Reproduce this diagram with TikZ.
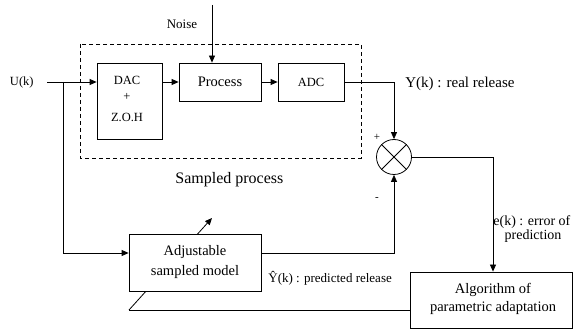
\documentclass[tikz,border=0pt]{standalone}
\usepackage{fontspec}
\setmainfont{Liberation Serif}
\usetikzlibrary{arrows.meta}
\newcommand{\fs}[1]{\fontsize{#1}{#1}\selectfont}
\begin{document}
\begin{tikzpicture}[x=1pt,y=-1pt,
  line width=0.8pt,
  blk/.style={draw,rectangle,fill=white,inner sep=0pt,align=center},
  lbl/.style={inner sep=0pt,align=center},
  arr/.style={-{Triangle[length=7pt,width=6pt]}}]
\useasboundingbox (0,0) rectangle (574,331);
% dashed sampled-process frame
\draw[line width=0.7pt,dash pattern=on 4pt off 3pt] (80,44) rectangle (361,158);
% blocks
\node[blk,minimum width=65pt,minimum height=76pt] (dac) at (129.5,101) {};
\node[lbl,font=\fs{12.5}] (dact) at (127,80) {DAC};
\node[lbl,font=\fs{12.5}] (dacp) at (127,97) {+};
\node[lbl,font=\fs{12.5}] (dacz) at (127,117) {Z.O.H};
\node[blk,minimum width=82pt,minimum height=38pt,font=\fs{14.5}] (proc) at (220,82) {Process};
\node[blk,minimum width=66pt,minimum height=38pt,font=\fs{12.5}] (adc) at (311,82) {ADC};
\node[blk,minimum width=162pt,minimum height=56pt] (algo) at (491,300) {};
\node[lbl,font=\fs{14.5}] (algt1) at (493,290) {Algorithm of};
\node[lbl,font=\fs{14.5}] (algt2) at (493,308) {parametric adaptation};
\node[draw,circle,inner sep=0pt,minimum size=35pt] (sum) at (394,157) {};
\draw (sum.north east) -- (sum.south west);
\draw (sum.north west) -- (sum.south east);
% feedback (passes behind the model block)
\coordinate (fbl) at (129,310);
\coordinate (fbtip) at (212,218);
\draw (algo.west |- fbl) -- (fbl);
\draw[arr] (fbl) -- (fbtip);
\node[blk,minimum width=132pt,minimum height=57pt] (model) at (195,262.5) {};
\node[lbl,font=\fs{14.5}] (modt1) at (195,252) {Adjustable};
\node[lbl,font=\fs{14.5}] (modt2) at (195,272) {sampled model};
% labels
\node[lbl,font=\fs{13}] (noise) at (182,24) {Noise};
\node[lbl,font=\fs{12.5},anchor=east] (uk) at (34,82) {U(k)};
\node[lbl,font=\fs{16},anchor=west] (sp) at (175,180) {Sampled process};
\node[lbl,font=\fs{15},anchor=west] (yk) at (405,84) {Y(k) : real release};
\node[lbl,font=\fs{13},anchor=west] (yhat) at (268,278) {Ŷ(k) : predicted release};
\node[lbl,font=\fs{14},anchor=west] (ek1) at (493,222) {e(k) : error of};
\node[lbl,font=\fs{14}] (ek2) at (533,236) {prediction};
\node[lbl,font=\fs{11}] (plus) at (377,137) {+};
\node[lbl,font=\fs{11}] (minus) at (377,199) {-};
% coordinates
\coordinate (nstart) at (212,5);
\coordinate (ustart) at (47,82);
\coordinate (branch) at (63,82);
\coordinate (bcorner) at (63,253);
\coordinate (ycorner) at (394,82);
\coordinate (mout) at (261,253);
\coordinate (mcorner) at (394,253);
\coordinate (ecorner) at (493,157);
% connectors
\draw[arr] (nstart) -- (proc.north -| nstart);
\draw[arr] (ustart) -- (ustart -| dac.west);
\draw[arr] (dac.east |- proc) -- (proc.west);
\draw[arr] (proc.east) -- (adc.west);
\draw[arr] (adc.east) -- (ycorner) -- (sum.north);
\draw[arr] (branch) -- (bcorner) -- (bcorner -| model.west);
\draw[arr] (mout) -- (mcorner) -- (sum.south);
\draw[arr] (sum.east) -- (ecorner) -- (ecorner |- algo.north);
\end{tikzpicture}
\end{document}
